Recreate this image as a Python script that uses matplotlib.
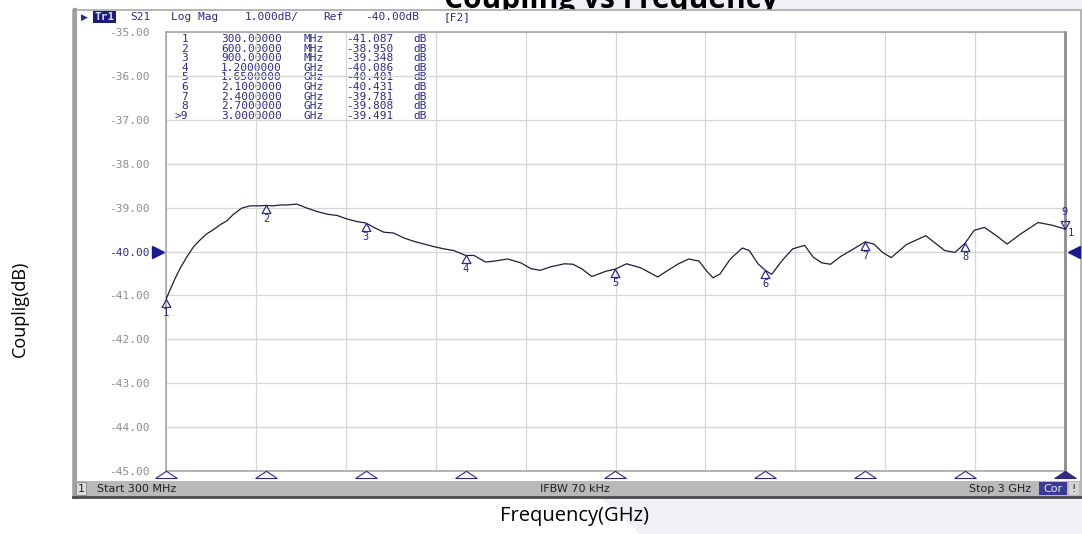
import matplotlib
matplotlib.use("Agg")
from matplotlib import pyplot as plt
from matplotlib.patches import Rectangle, Polygon
from matplotlib.transforms import blended_transform_factory
import numpy as np

# traced S21 trace (GHz, dB)
freq_ghz = [0.300, 0.312, 0.327, 0.342, 0.362, 0.382, 0.402, 0.422, 0.443, 0.463,
            0.483, 0.503, 0.528, 0.553, 0.583, 0.600, 0.623, 0.643, 0.663, 0.693,
            0.723, 0.754, 0.784, 0.814, 0.844, 0.874, 0.900, 0.924, 0.954, 0.984,
            1.014, 1.045, 1.075, 1.105, 1.135, 1.165, 1.200, 1.225, 1.260, 1.285,
            1.326, 1.366, 1.396, 1.424, 1.455, 1.496, 1.522, 1.548, 1.579, 1.621,
            1.650, 1.683, 1.725, 1.777, 1.803, 1.839, 1.870, 1.901, 1.922, 1.943,
            1.964, 1.995, 2.031, 2.052, 2.078, 2.100, 2.119, 2.151, 2.182, 2.218,
            2.244, 2.270, 2.296, 2.327, 2.363, 2.400, 2.426, 2.452, 2.478, 2.524,
            2.582, 2.607, 2.639, 2.670, 2.700, 2.727, 2.758, 2.794, 2.826, 2.867,
            2.919, 2.961, 3.000]
coupling_db = [-41.09, -40.88, -40.62, -40.39, -40.13, -39.90, -39.74, -39.60, -39.50, -39.39,
               -39.30, -39.15, -39.01, -38.96, -38.96, -38.95, -38.96, -38.94, -38.94, -38.92,
               -39.01, -39.09, -39.15, -39.18, -39.26, -39.32, -39.35, -39.45, -39.56, -39.58,
               -39.69, -39.77, -39.83, -39.89, -39.94, -39.98, -40.09, -40.09, -40.24, -40.22,
               -40.17, -40.26, -40.39, -40.43, -40.35, -40.28, -40.29, -40.39, -40.57, -40.45,
               -40.40, -40.28, -40.37, -40.58, -40.45, -40.28, -40.17, -40.22, -40.43, -40.60,
               -40.51, -40.17, -39.92, -39.98, -40.28, -40.43, -40.52, -40.20, -39.94, -39.86,
               -40.13, -40.26, -40.29, -40.11, -39.95, -39.78, -39.83, -40.02, -40.14, -39.84,
               -39.64, -39.79, -39.98, -40.02, -39.81, -39.52, -39.45, -39.64, -39.83, -39.60,
               -39.34, -39.40, -39.49]

# marker table
marker_ids = ['1', '2', '3', '4', '5', '6', '7', '8', '9']
marker_freq = [0.3, 0.6, 0.9, 1.2, 1.65, 2.1, 2.4, 2.7, 3.0]
marker_db = [-41.087, -38.950, -39.348, -40.086, -40.401, -40.431, -39.781, -39.808, -39.491]
marker_freq_txt = ['300.00000', '600.00000', '900.00000', '1.2000000', '1.6500000',
                   '2.1000000', '2.4000000', '2.7000000', '3.0000000']
marker_unit = ['MHz', 'MHz', 'MHz', 'GHz', 'GHz', 'GHz', 'GHz', 'GHz', 'GHz']

y_ticks = [-35, -36, -37, -38, -39, -40, -41, -42, -43, -44, -45]
ref_level = -40

W, H = 1082, 534
NAVY = '#2c2c80'
MONO = 'DejaVu Sans Mono'

fig = plt.figure(figsize=(W / 100, H / 100), dpi=100)

# background layer in pixel coords
bg = fig.add_axes([0, 0, 1, 1], zorder=-1)
bg.set_xlim(0, W)
bg.set_ylim(H, 0)
bg.axis('off')
bg.add_patch(Polygon([(555, 0), (W, 0), (W, H), (640, H), (600, 497)],
                     fc='#eff1f6', ec='none', zorder=0))
bg.text(611, 8, 'Coupling vs Frequency', ha='center', va='baseline', fontsize=21.5,
        fontweight='bold', family=['Open Sans', 'DejaVu Sans'], zorder=1)

# instrument window
bg.add_patch(Rectangle((73, 10), 1008, 487, fc='white', ec='#a8a8a8', lw=1.2, zorder=2))
bg.plot([75, 75], [10, 497], color='#a0a0a0', lw=3, zorder=3)
bg.add_patch(Rectangle((76, 481), 1004, 15, fc='#b9b9b9', ec='none', zorder=3))
bg.plot([73, 1081], [497, 497], color='#4a4a4a', lw=2, zorder=4)
bg.add_patch(Rectangle((76, 482), 10, 13, fc='#dcdcdc', ec='#888888', lw=0.6, zorder=4))
bg.text(81, 488.5, '1', ha='center', va='center', fontsize=8, color='#202020', zorder=5)
bg.text(97, 488.5, 'Start 300 MHz', ha='left', va='center', fontsize=8, color='#202020', zorder=5)
bg.text(575, 488.5, 'IFBW 70 kHz', ha='center', va='center', fontsize=8, color='#202020', zorder=5)
bg.text(1031, 488.5, 'Stop 3 GHz', ha='right', va='center', fontsize=8, color='#202020', zorder=5)
bg.add_patch(Rectangle((1039, 482), 28, 13, fc='#3a3a96', ec='none', zorder=4))
bg.text(1053, 488.5, 'Cor', ha='center', va='center', fontsize=8, color='#e4e4ff', zorder=5)
bg.add_patch(Rectangle((1069, 482), 10, 13, fc='#d4d4d4', ec='none', zorder=4))
bg.text(1074, 488.5, '!', ha='center', va='center', fontsize=8, color='#303030', zorder=5)

# header line
bg.text(84, 17, '\u25b6', ha='center', va='center', fontsize=6.5, color=NAVY, zorder=5)
bg.text(104.5, 17, 'Tr1', ha='center', va='center', fontsize=8, family=MONO,
        color='#d8dcff', fontweight='bold', zorder=5,
        bbox=dict(boxstyle='square,pad=0.1', fc='#1c1c78', ec='none'))
header = [(140, 'S21'), (195, 'Log Mag'), (272, '1.000dB/'), (333.5, 'Ref'),
          (392.5, '-40.00dB'), (456.5, '[F2]')]
for hx, ht in header:
    bg.text(hx, 17, ht, ha='center', va='center', fontsize=8, family=MONO, color=NAVY, zorder=5)

# marker table
for i in range(len(marker_ids)):
    ry = 39.3 + 9.55 * i
    mid = ('>' if i == len(marker_ids) - 1 else '') + marker_ids[i]
    bg.text(188, ry, mid, ha='right', va='center', fontsize=8, family=MONO, color=NAVY, zorder=5)
    bg.text(251.5, ry, marker_freq_txt[i], ha='center', va='center', fontsize=8, family=MONO, color=NAVY, zorder=5)
    bg.text(314, ry, marker_unit[i], ha='center', va='center', fontsize=8, family=MONO, color=NAVY, zorder=5)
    bg.text(369.5, ry, '%.3f' % marker_db[i], ha='center', va='center', fontsize=8, family=MONO, color=NAVY, zorder=5)
    bg.text(420, ry, 'dB', ha='center', va='center', fontsize=8, family=MONO, color=NAVY, zorder=5)

# main plot
ax = fig.add_axes([166 / W, 1 - 471 / H, 899 / W, 439 / H])
ax.patch.set_alpha(0)
ax.set_xlim(0.3, 3.0)
ax.set_ylim(-45, -35)
ax.set_xticks(np.linspace(0.3, 3.0, 11))
ax.set_xticklabels([])
ax.set_yticks(y_ticks)
ax.set_yticklabels(['%.2f' % v for v in y_ticks], family=MONO, fontsize=8, color='#8c8c8c')
for lab, v in zip(ax.get_yticklabels(), y_ticks):
    if v == ref_level:
        lab.set_color(NAVY)
ax.tick_params(length=0, pad=11.5)
ax.grid(color='#d6d6d6', lw=0.9)
for s in ax.spines.values():
    s.set_color('#a8a8a8')
    s.set_linewidth(1.2)
ax.spines['right'].set_color('#8c8c8c')
ax.spines['right'].set_linewidth(2)

ax.plot(freq_ghz, coupling_db, color='#1e1e3c', lw=0.9, zorder=3)

up_tri = [(0, 0), (-0.55, -1), (0.55, -1), (0, 0)]
down_tri = [(0, 0), (-0.55, 1), (0.55, 1), (0, 0)]
for i in range(len(marker_ids)):
    if i == len(marker_ids) - 1:
        ax.plot(marker_freq[i], marker_db[i], marker=down_tri, ms=11.5, mfc='none',
                mec=NAVY, mew=0.9, zorder=4, clip_on=False)
        ax.annotate(marker_ids[i], (marker_freq[i], marker_db[i]), xytext=(0, 12),
                    textcoords='offset points', ha='center', va='center',
                    fontsize=7.5, family=MONO, color=NAVY, annotation_clip=False)
        ax.annotate('1', (marker_freq[i], marker_db[i]), xytext=(4.5, -2.5),
                    textcoords='offset points', ha='center', va='center',
                    fontsize=7.5, family=MONO, color=NAVY, annotation_clip=False)
    else:
        ax.plot(marker_freq[i], marker_db[i], marker=up_tri, ms=11.5, mfc='none',
                mec=NAVY, mew=0.9, zorder=4, clip_on=False)
        ax.annotate(marker_ids[i], (marker_freq[i], marker_db[i]), xytext=(0, -10),
                    textcoords='offset points', ha='center', va='center',
                    fontsize=7.5, family=MONO, color=NAVY, annotation_clip=False)

# marker position indicators under the grid
bx = blended_transform_factory(ax.transData, ax.transAxes)
flat_tri = [(-1.5, 0), (1.5, 0), (0, 1), (-1.5, 0)]
for i in range(len(marker_ids)):
    active = i == len(marker_ids) - 1
    ax.plot(marker_freq[i], -7 / 439, transform=bx, marker=flat_tri, ms=15.5,
            mfc=NAVY if active else 'white', mec=NAVY, mew=0.8, clip_on=False, zorder=5)

# reference level arrows
by = blended_transform_factory(ax.transAxes, ax.transData)
ax.plot(-8 / 899, ref_level, transform=by, marker='>', ms=9, color='#1a1a8c', clip_on=False)
ax.plot(1 + 9 / 899, ref_level, transform=by, marker='<', ms=9, color='#1a1a8c', clip_on=False)

fig.text(20 / W, 1 - 309 / H, 'Couplig(dB)', rotation=90, ha='center', va='center',
         fontsize=13, family=['Open Sans', 'DejaVu Sans'])
fig.text(575 / W, 1 - 516 / H, 'Frequency(GHz)', ha='center', va='center',
         fontsize=14.5, family=['Open Sans', 'DejaVu Sans'])

fig.savefig('out.png', dpi=100)
